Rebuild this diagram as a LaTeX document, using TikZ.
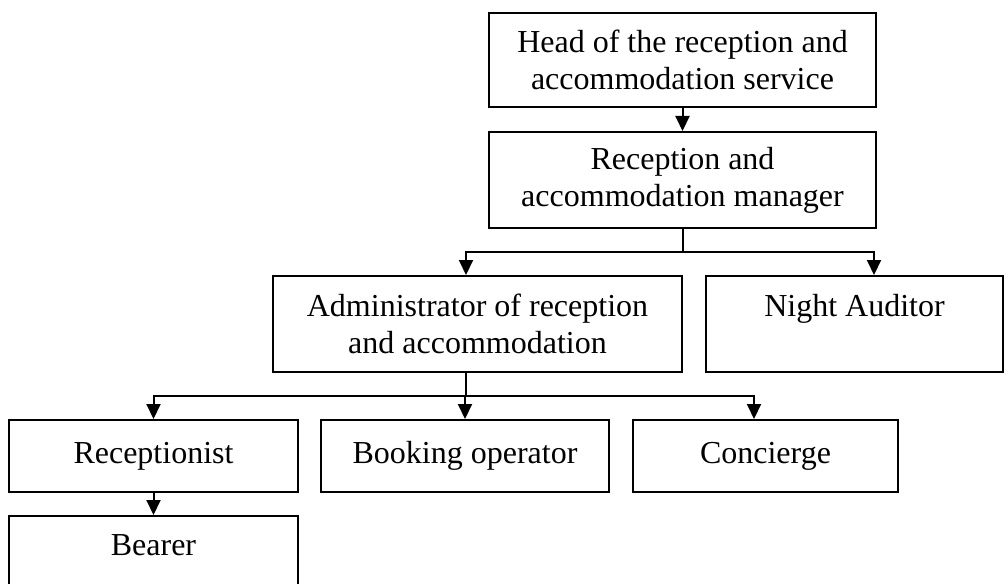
\documentclass[tikz,border=0pt]{standalone}
\usepackage{fontspec}
\setmainfont{Liberation Serif}
\usetikzlibrary{arrows.meta}
\begin{document}
\begin{tikzpicture}[x=1pt,y=-1pt,
  box/.style={draw=black, line width=2pt, fill=white, align=center, inner sep=0pt,
    font=\fontsize{32}{37}\selectfont},
  arr/.style={line width=2pt, -{Triangle[length=15pt,width=14pt]}},
  ln/.style={line width=2pt}]
\useasboundingbox (0,0) rectangle (1008,583);
\node[box, minimum width=387pt, minimum height=94pt] (head) at (682.5,60)
  {Head of the reception and\\accommodation service};
\node[box, minimum width=387pt, minimum height=96pt] (mgr) at (682.5,180)
  {Reception and\\accommodation manager};
\node[box, minimum width=409pt, minimum height=96pt] (admin) at (477.5,324)
  {Administrator of reception\\and accommodation};
\node[box, minimum width=297pt, minimum height=96pt] (night) at (854.5,324)
  {Night Auditor\\\mbox{}};
\node[box, minimum width=289pt, minimum height=72pt] (recep) at (153.5,456)
  {Receptionist};
\node[box, minimum width=288pt, minimum height=72pt] (book) at (465,456)
  {Booking operator};
\node[box, minimum width=265pt, minimum height=72pt] (conc) at (765.5,456)
  {Concierge};
\node[box, minimum width=289pt, minimum height=96pt] (bearer) at (153.5,564)
  {Bearer\\\mbox{}};
\coordinate (j1) at (682.5,252);
\coordinate (j2) at (466,396);
\draw[arr] (head.south) -- (mgr.north);
\draw[ln] (mgr.south) -- (j1);
\draw[arr] (j1) -| ([xshift=-11.5pt]admin.north);
\draw[arr] (j1) -| ([xshift=19.5pt]night.north);
\draw[ln] ([xshift=-11.5pt]admin.south) -- (j2);
\draw[arr] (j2) -| (recep.north);
\draw[arr] (j2) -| (book.north);
\draw[arr] (j2) -| ([xshift=-11.5pt]conc.north);
\draw[arr] (recep.south) -- (bearer.north);
\end{tikzpicture}
\end{document}
